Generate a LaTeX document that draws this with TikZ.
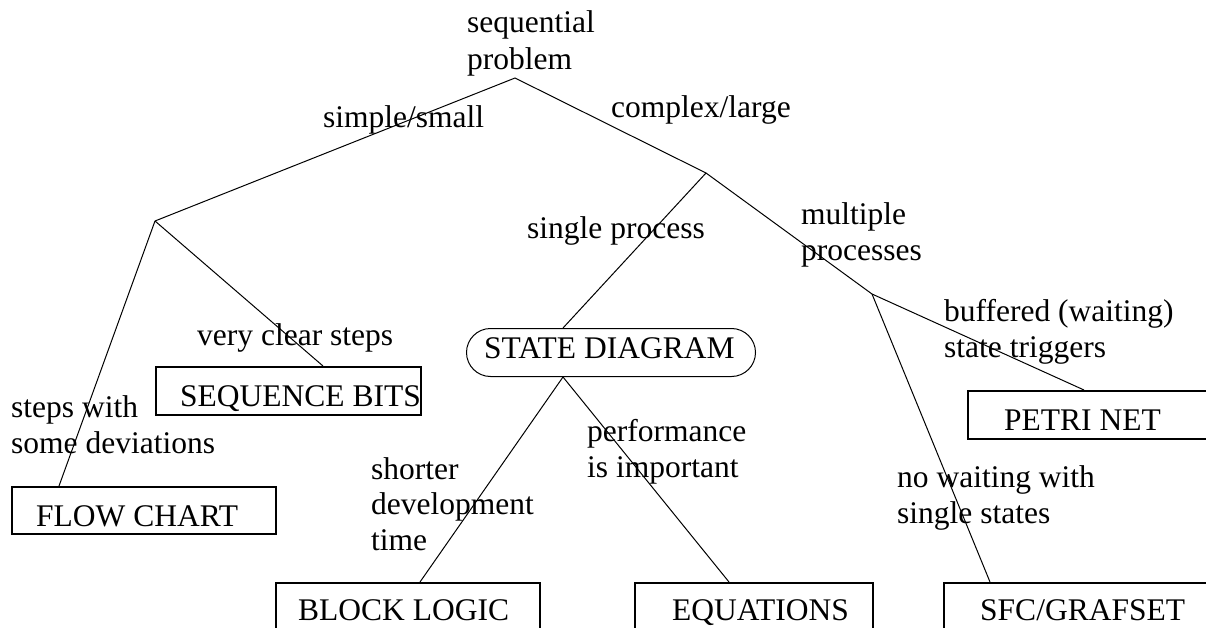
\documentclass[tikz,border=0pt]{standalone}
\usepackage{fontspec}
\setmainfont{Liberation Serif}
\usetikzlibrary{calc}
\begin{document}
\begin{tikzpicture}[x=1pt,y=-1pt,
  lbl/.style={anchor=base west,inner sep=0pt,align=left,font=\fontsize{31.5}{35.5}\selectfont},
  boxnode/.style={draw,line width=2pt,anchor=north west,inner sep=0pt,minimum width=#1},
  conn/.style={line width=1pt},
  every node/.style={text=black}]
\useasboundingbox (0,0) rectangle (1206,628);
\clip (0,0) rectangle (1206,628);
% vertices
\coordinate (R) at (515,78);
\coordinate (L1) at (155,221);
\coordinate (C) at (706,173);
\coordinate (M) at (872,294);
% boxes
\node[boxnode=265pt,minimum height=48pt] (seq) at (155,366) {};
\node[boxnode=264pt,minimum height=47pt] (flow) at (11,486) {};
\node[draw,line width=1pt,anchor=north west,minimum width=289pt,minimum height=48pt,rounded corners=24pt,inner sep=0pt] (sd) at (466,328) {};
\node[boxnode=264pt,minimum height=70pt] (block) at (275,582) {};
\node[boxnode=238pt,minimum height=70pt] (eq) at (634,582) {};
\node[boxnode=280pt,minimum height=70pt] (sfc) at (943,582) {};
\node[boxnode=260pt,minimum height=48pt] (petri) at (967,390) {};
% box texts
\node[lbl] (seqt) at (180,406) {SEQUENCE BITS};
\node[lbl] (flowt) at (36,526) {FLOW CHART};
\node[lbl] (sdt) at (484,358) {STATE DIAGRAM};
\node[lbl] (blockt) at (298,620) {BLOCK LOGIC};
\node[lbl] (eqt) at (672,620) {EQUATIONS};
\node[lbl] (sfct) at (980,620) {SFC/GRAFSET};
\node[lbl] (petrit) at (1004,430) {PETRI NET};
% labels (base = baseline of the last line)
\node[lbl,font=\fontsize{31.5}{37}\selectfont] (top) at (467,70) {sequential\\problem};
\node[lbl] (ss) at (323,128) {simple/small};
\node[lbl] (cl) at (611,118) {complex/large};
\node[lbl] (sp) at (527,238) {single process};
\node[lbl] (mp) at (801,260) {multiple\\processes};
\node[lbl] (bw) at (944,357) {buffered (waiting)\\state triggers};
\node[lbl] (vcs) at (197,345) {very clear steps};
\node[lbl] (sw) at (11,453) {steps with\\some deviations};
\node[lbl] (sdt2) at (371,550) {shorter\\development\\time};
\node[lbl] (pi) at (587,477) {performance\\is important};
\node[lbl] (nw) at (897,523) {no waiting with\\single states};
% connectors
\draw[conn] (L1) -- (R) -- (C);
\draw[conn] (L1) -- ($(flow.north west)+(48,0)$);
\draw[conn] (L1) -- ($(seq.north west)+(168,0)$);
\draw[conn] (C) -- ($(sd.north west)+(97,0)$);
\draw[conn] (C) -- (M);
\draw[conn] ($(sd.south west)+(97,0)$) -- ($(block.north west)+(145,0)$);
\draw[conn] ($(sd.south west)+(97,0)$) -- ($(eq.north west)+(95,0)$);
\draw[conn] (M) -- ($(sfc.north west)+(47,0)$);
\draw[conn] (M) -- ($(petri.north west)+(117,0)$);
\end{tikzpicture}
\end{document}
